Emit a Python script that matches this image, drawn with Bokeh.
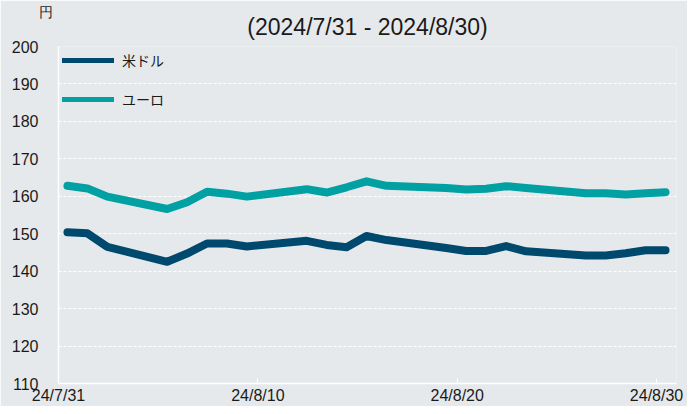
import pandas as pd
from bokeh.plotting import figure
from bokeh.models import FixedTicker, Legend, LegendItem, Title, Range1d, ColumnDataSource
from bokeh.embed import file_html
from bokeh.resources import INLINE

# ---- data ----
dates = ["2024-07-31", "2024-08-01", "2024-08-02", "2024-08-05", "2024-08-06",
         "2024-08-07", "2024-08-08", "2024-08-09", "2024-08-12", "2024-08-13",
         "2024-08-14", "2024-08-15", "2024-08-16", "2024-08-19", "2024-08-20",
         "2024-08-21", "2024-08-22", "2024-08-23", "2024-08-26", "2024-08-27",
         "2024-08-28", "2024-08-29", "2024-08-30"]
usd = [150.4, 150.1, 146.5, 142.5, 144.7, 147.4, 147.4, 146.6, 148.1, 147.0,
       146.4, 149.4, 148.3, 146.2, 145.4, 145.4, 146.7, 145.3, 144.2, 144.2,
       144.8, 145.6, 145.6]
eur = [162.8, 162.1, 159.9, 156.6, 158.4, 161.2, 160.7, 159.9, 161.9, 161.0,
       162.4, 164.0, 162.8, 162.2, 161.8, 162.0, 162.7, 162.2, 160.8, 160.8,
       160.5, 160.8, 161.1]
series_names = ["米ドル", "ユーロ"]
tick_dates = ["2024-07-31", "2024-08-10", "2024-08-20", "2024-08-30"]
tick_labels = ["24/7/31", "24/8/10", "24/8/20", "24/8/30"]
y_ticks = [110, 120, 130, 140, 150, 160, 170, 180, 190, 200]
title_text = "(2024/7/31 - 2024/8/30)"
unit_text = "円"

# ---- helpers ----
start = pd.Timestamp(dates[0])
x_days = [(pd.Timestamp(d) - start).days + 0.45 for d in dates]
tick_x = [(pd.Timestamp(d) - start).days for d in tick_dates]

source = ColumnDataSource(dict(x=x_days, usd=usd, eur=eur))

BG = "#e6e9ec"
C_USD = "#00496e"
C_EUR = "#00a0a3"
TXT = "#1a1a1a"

p = figure(width=687, height=406, output_backend="svg", toolbar_location=None,
           x_range=Range1d(0, 31), y_range=Range1d(110, 200),
           min_border_left=58, min_border_right=11, min_border_top=46,
           min_border_bottom=22)
p.background_fill_color = BG
p.border_fill_color = BG
p.outline_line_color = None
p.title.text = ""

# main title (closest to the frame), then the unit label above it
p.add_layout(Title(text=title_text, align="center", vertical_align="top",
                   standoff=10, text_font="Liberation Sans",
                   text_font_size="23px", text_font_style="normal",
                   text_color=TXT), "above")
p.add_layout(Title(text=unit_text, align="left", offset=-20, standoff=-22,
                   text_font="Liberation Sans", text_font_size="14px",
                   text_font_style="normal", text_color=TXT), "above")

r_usd = p.line("x", "usd", source=source, line_width=8, color=C_USD,
               line_cap="round", line_join="round")
r_eur = p.line("x", "eur", source=source, line_width=8, color=C_EUR,
               line_cap="round", line_join="round")

# legend proxies (thinner line, single point -> draws nothing in the plot)
l_usd = p.line(x=x_days[:1], y=usd[:1], line_width=5, color=C_USD, line_cap="round")
l_eur = p.line(x=x_days[:1], y=eur[:1], line_width=5, color=C_EUR, line_cap="round")
legend = Legend(items=[LegendItem(label=series_names[0], renderers=[l_usd]),
                       LegendItem(label=series_names[1], renderers=[l_eur])],
                location="top_left", margin=4, padding=6, spacing=19,
                glyph_width=52, glyph_height=16, label_height=16,
                label_standoff=8, border_line_color=None,
                background_fill_alpha=0,
                label_text_font="Noto Sans CJK JP", label_text_font_size="14px",
                label_text_color=TXT)
p.add_layout(legend, "center")

# axes
p.xaxis.ticker = FixedTicker(ticks=tick_x)
p.xaxis.major_label_overrides = {t: lab for t, lab in zip(tick_x, tick_labels)}
p.yaxis.ticker = FixedTicker(ticks=y_ticks)
for ax in (p.xaxis, p.yaxis):
    ax.axis_line_color = "white"
    ax.axis_line_width = 1.5
    ax.major_tick_line_color = "white"
    ax.minor_tick_line_color = None
    ax.major_label_text_font = "Liberation Sans"
    ax.major_label_text_font_size = "16px"
    ax.major_label_text_color = TXT
p.xaxis.major_tick_in = 5
p.xaxis.major_tick_out = 0
p.xaxis.major_label_standoff = 3
p.yaxis.major_tick_in = 0
p.yaxis.major_tick_out = 0
p.yaxis.major_label_standoff = 20

p.xgrid.visible = False
p.ygrid.grid_line_color = "white"
p.ygrid.grid_line_dash = "3 2"
p.ygrid.grid_line_width = 1

open("out.html", "w").write(file_html(p, INLINE))
